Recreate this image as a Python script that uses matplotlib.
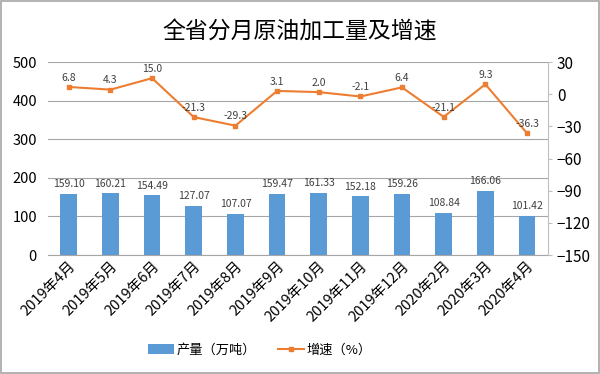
import matplotlib
matplotlib.use('Agg')
import matplotlib.pyplot as plt
from matplotlib.patches import Rectangle

plt.rcParams['font.family'] = ['Noto Sans CJK SC', 'DejaVu Sans']

months = ['2019年4月', '2019年5月', '2019年6月', '2019年7月', '2019年8月', '2019年9月',
          '2019年10月', '2019年11月', '2019年12月', '2020年2月', '2020年3月', '2020年4月']
output = [159.10, 160.21, 154.49, 127.07, 107.07, 159.47, 161.33, 152.18, 159.26, 108.84, 166.06, 101.42]
growth = [6.8, 4.3, 15.0, -21.3, -29.3, 3.1, 2.0, -2.1, 6.4, -21.1, 9.3, -36.3]

bar_color = '#5B9BD5'
line_color = '#ED7D31'

fig = plt.figure(figsize=(6, 3.74), dpi=100)
fig.patches.append(Rectangle((0.002, 0.003), 0.996, 0.994, transform=fig.transFigure,
                             fill=False, edgecolor='#A6A6A6', linewidth=1.2))

ax = fig.add_axes([0.08, 0.318, 0.833, 0.516])
x = list(range(len(months)))
bars = ax.bar(x, output, width=0.4, color=bar_color, label='产量（万吨）', zorder=2)
ax.set_ylim(0, 500)
ax.set_yticks([0, 100, 200, 300, 400, 500])
ax.set_xlim(-0.5, len(months) - 0.5)
ax.grid(axis='y', color='#A6A6A6', linewidth=0.8, zorder=0)
for s in ['top', 'left', 'right']:
    ax.spines[s].set_visible(False)
ax.spines['bottom'].set_color('#A6A6A6')
ax.tick_params(axis='y', length=0, labelsize=10.5, pad=8)
ax.tick_params(axis='x', length=0, labelsize=10.5, pad=3)
ax.set_xticks(x)
ax.set_xticklabels(months, rotation=45, ha='right', rotation_mode='anchor')
for xi, v in zip(x, output):
    ax.text(xi, v + 12, f'{v:.2f}', ha='center', va='bottom', fontsize=7.5, color='#404040')

ax2 = ax.twinx()
ax2.plot(x, growth, color=line_color, marker='s', markersize=3.5, linewidth=1.5, label='增速（%）', zorder=3)
ax2.set_ylim(-150, 30)
ax2.set_yticks([30, 0, -30, -60, -90, -120, -150])
for s in ['top', 'left', 'bottom']:
    ax2.spines[s].set_visible(False)
ax2.spines['right'].set_color('#BFBFBF')
ax2.tick_params(axis='y', length=3, color='#BFBFBF', labelsize=11)
for xi, v in zip(x, growth):
    ax2.text(xi, v + 4, f'{v:.1f}', ha='center', va='bottom', fontsize=7.5, color='#404040')

fig.text(0.5, 0.915, '全省分月原油加工量及增速', ha='center', va='center', fontsize=16.5)

h1, l1 = ax.get_legend_handles_labels()
h2, l2 = ax2.get_legend_handles_labels()
fig.legend(h1 + h2, l1 + l2, loc='center', bbox_to_anchor=(0.433, 0.064), ncol=2,
           frameon=False, fontsize=9.5, handlelength=2.0, handletextpad=0.2, columnspacing=1.6)

fig.savefig('out.png', dpi=100)
